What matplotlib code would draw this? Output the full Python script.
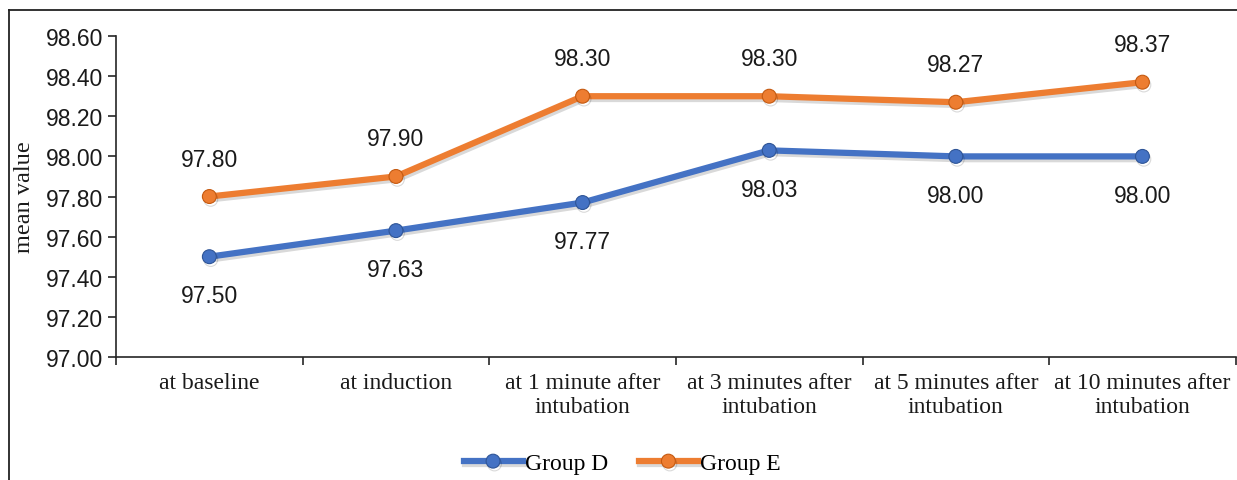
import matplotlib
matplotlib.use('Agg')
import matplotlib.pyplot as plt
import matplotlib.patheffects as pe
from matplotlib.lines import Line2D

categories = ['at baseline', 'at induction', 'at 1 minute after\nintubation',
              'at 3 minutes after\nintubation', 'at 5 minutes after\nintubation',
              'at 10 minutes after\nintubation']
group_d = [97.50, 97.63, 97.77, 98.03, 98.00, 98.00]
group_e = [97.80, 97.90, 98.30, 98.30, 98.27, 98.37]
y_ticks = [97.0, 97.2, 97.4, 97.6, 97.8, 98.0, 98.2, 98.4, 98.6]

blue = '#4472C4'
orange = '#ED7D31'
sans = 'Liberation Sans'
serif = 'Liberation Serif'
txt = '#1a1a1a'

fig = plt.figure(figsize=(12.37, 4.81), dpi=100)
ax = fig.add_axes([0.0938, 0.2557, 0.9052, 0.6673])

x = [i + 0.5 for i in range(len(categories))]
shadow = [pe.SimpleLineShadow(offset=(1, -2), alpha=0.15), pe.Normal()]

ax.plot(x, group_d, color=blue, lw=4.5, marker='o', markersize=10,
        markerfacecolor=blue, markeredgecolor='#2F5597', markeredgewidth=0.8,
        label='Group D', path_effects=shadow, zorder=3)
ax.plot(x, group_e, color=orange, lw=4.5, marker='o', markersize=10,
        markerfacecolor=orange, markeredgecolor='#C55A11', markeredgewidth=0.8,
        label='Group E', path_effects=shadow, zorder=3)

# value labels: group E above, group D below
for xi, v in zip(x, group_e):
    ax.annotate('{:.2f}'.format(v), (xi, v), xytext=(0, 27), textcoords='offset points',
                ha='center', va='center', fontsize=16.5, family=sans, color=txt)
for xi, v in zip(x, group_d):
    ax.annotate('{:.2f}'.format(v), (xi, v), xytext=(0, -28), textcoords='offset points',
                ha='center', va='center', fontsize=16.5, family=sans, color=txt)

ax.set_xlim(0, len(categories))
ax.set_ylim(97.0, 98.6)
ax.set_yticks(y_ticks)
ax.set_yticklabels(['{:.2f}'.format(t) for t in y_ticks], fontsize=16.5, family=sans, color=txt)

ax.set_xticks(range(len(categories) + 1))
ax.set_xticklabels([])
ax.set_xticks(x, minor=True)
ax.set_xticklabels(categories, minor=True, fontsize=17, family=serif, linespacing=1.2, color=txt)
ax.tick_params(axis='x', which='minor', length=0, pad=11)
ax.tick_params(axis='both', which='major', length=6, width=1.2, direction='out', color='#262626')

for s in ['top', 'right']:
    ax.spines[s].set_visible(False)
for s in ['left', 'bottom']:
    ax.spines[s].set_linewidth(1.2)
    ax.spines[s].set_color('#262626')

ax.set_ylabel('mean value', fontsize=17.5, family=serif, color=txt)
ax.yaxis.set_label_coords(-0.072, 0.5)

fig.legend(loc='center', bbox_to_anchor=(0.503, 0.034), ncol=2, frameon=False,
           prop={'family': serif, 'size': 17}, handlelength=2.5, handletextpad=0.1,
           columnspacing=1.3)

# outer chart border (left and top edges)
fig.add_artist(Line2D([0.0073, 0.0073], [0.0, 0.977], color='#222222', lw=1.3,
                      transform=fig.transFigure))
fig.add_artist(Line2D([0.0073, 1.0], [0.977, 0.977], color='#222222', lw=1.3,
                      transform=fig.transFigure))

plt.savefig('out.png', dpi=100)
